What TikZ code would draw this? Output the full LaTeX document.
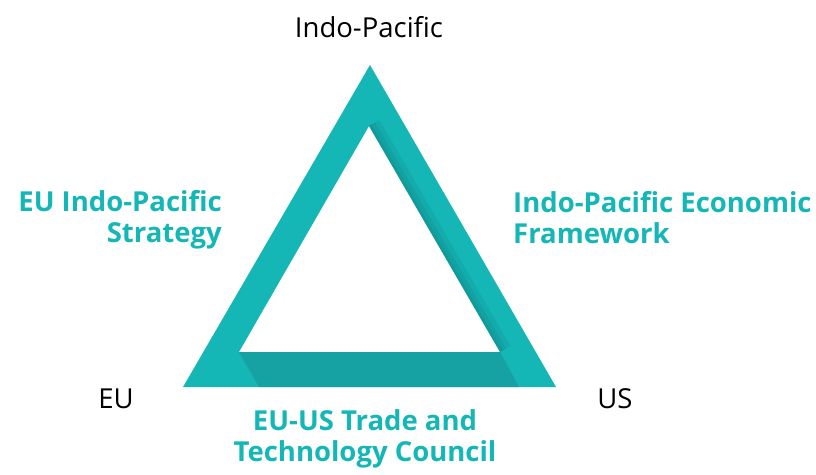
\documentclass[tikz,border=0pt]{standalone}
\usepackage{fontspec}
\setmainfont{Open Sans}
\definecolor{tealmain}{RGB}{20,182,182}
\definecolor{tealdark}{RGB}{22,162,163}
\tikzstyle{corner} = [font=\fontsize{27.5}{31}\selectfont, text=black, anchor=base, inner sep=0pt]
\tikzstyle{pact} = [font=\fontsize{27.5}{31}\selectfont\bfseries, text=tealmain, inner sep=0pt]
\tikzstyle{shadowband} = [fill=tealdark!60!black, opacity=0.12]

\begin{document}
\begin{tikzpicture}[x=1pt, y=-1pt]
\useasboundingbox (0,0) rectangle (816,474);

% triangle corners
\coordinate (out-top) at (370,65);
\coordinate (out-left) at (183,387);
\coordinate (out-right) at (556,387);
\coordinate (in-top) at (369,126);
\coordinate (in-left) at (239,352);
\coordinate (in-right) at (500,352);

% frame
\fill[tealmain, even odd rule] (out-top) -- (out-right) -- (out-left) -- cycle
  (in-top) -- (in-right) -- (in-left) -- cycle;
\fill[tealdark] (in-left) -- (in-right) -- (519,387) -- (259,387) -- cycle;
\foreach \w in {3,7,12}
  \fill[shadowband] (in-top) -- (in-right) -- ([shift={(0.865*\w,-0.5*\w)}]in-right)
    -- ([shift={(0.865*\w,-0.5*\w)}]in-top) -- cycle;

% labels
\node (indopac) [corner] at (369,37) {Indo-Pacific};
\node (eu) [corner] at (116,408) {EU};
\node (us) [corner] at (615,408) {US};

\node (euips) [pact, align=right, anchor=base east] at (222,242) {EU Indo-Pacific\\Strategy};
\node (ipef) [pact, align=left, anchor=base west] at (513,243) {Indo-Pacific Economic\\Framework};
\node (ttc) [pact, align=center, anchor=base] at (365,461) {EU-US Trade and\\Technology Council};

\end{tikzpicture}
\end{document}
